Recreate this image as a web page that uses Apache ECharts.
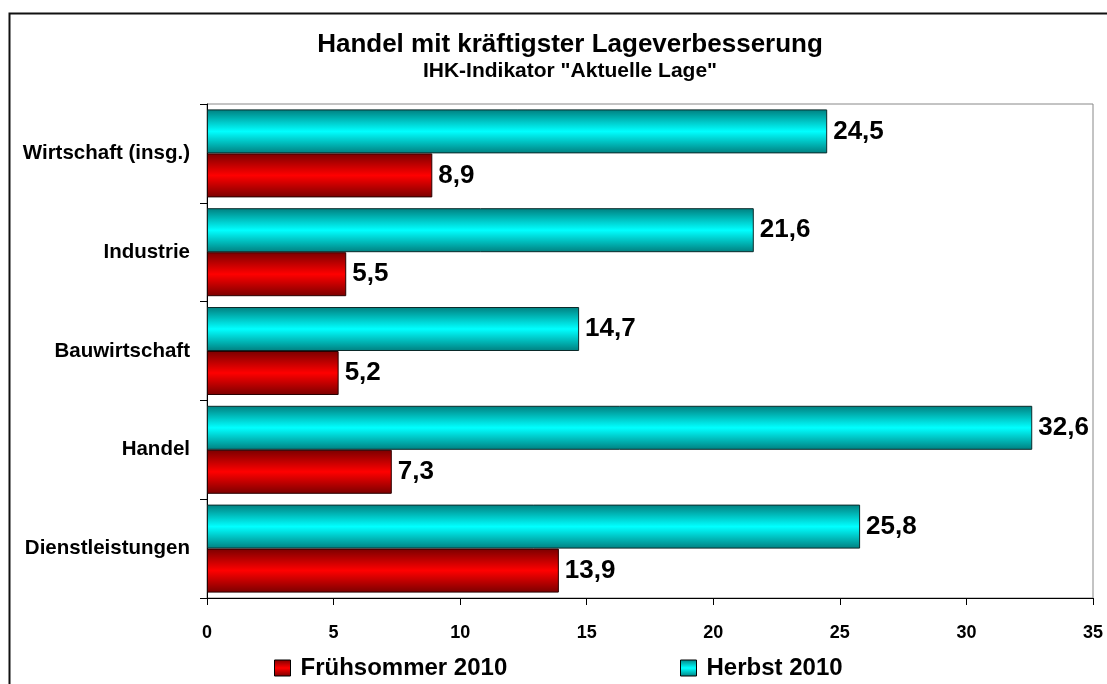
<!DOCTYPE html>
<html>
<head>
<meta charset="utf-8">
<title>Handel mit kräftigster Lageverbesserung</title>
<script src="https://cdn.jsdelivr.net/npm/echarts@6/dist/echarts.min.js"></script>
<style>
  html, body { margin: 0; padding: 0; background: #fff; }
  #main { width: 1107px; height: 684px; }
</style>
</head>
<body>
<div id="main"></div>
<script type="text/javascript">
  // chart data
  var categories = ['Wirtschaft (insg.)', 'Industrie', 'Bauwirtschaft', 'Handel', 'Dienstleistungen'];
  var herbst = [24.5, 21.6, 14.7, 32.6, 25.8];
  var fruehsommer = [8.9, 5.5, 5.2, 7.3, 13.9];
  var xTicks = { min: 0, max: 35, interval: 5 };

  var font = '"Liberation Sans", Arial, sans-serif';

  function shade(dark, light) {
    return new echarts.graphic.LinearGradient(0, 0, 0, 1, [
      { offset: 0, color: dark },
      { offset: 0.5, color: light },
      { offset: 1, color: dark }
    ]);
  }
  var cyan = shade('#007f7f', '#00ffff');
  var red = shade('#7a0000', '#ff0000');

  function fmt(p) {
    return String(p.value).replace('.', ',');
  }

  var legendText = { fontFamily: font, fontSize: 24, fontWeight: 'bold', color: '#000', rich: { g: { width: 5 } } };

  var chart = echarts.init(document.getElementById('main'));
  chart.setOption({
    animation: false,
    textStyle: { fontFamily: font },
    graphic: [{
      type: 'rect',
      left: 7, top: 11,
      shape: { width: 1200, height: 800 },
      style: { fill: 'none', stroke: '#111', lineWidth: 2 },
      z: -1
    }],
    title: [{
      text: 'Handel mit kräftigster Lageverbesserung',
      left: 565, top: 27, textAlign: 'center',
      textStyle: { fontFamily: font, fontSize: 26, fontWeight: 'bold', color: '#000' }
    }, {
      text: 'IHK-Indikator "Aktuelle Lage"',
      left: 565, top: 56, textAlign: 'center',
      textStyle: { fontFamily: font, fontSize: 21, fontWeight: 'bold', color: '#000' }
    }],
    legend: [{
      data: ['Frühsommer 2010'],
      left: 269, top: 651,
      icon: 'rect',
      itemWidth: 16, itemHeight: 16,
      formatter: function (n) { return '{g|}' + n; },
      itemStyle: { borderColor: '#000', borderWidth: 1 },
      textStyle: legendText
    }, {
      data: ['Herbst 2010'],
      left: 675, top: 651,
      icon: 'rect',
      itemWidth: 16, itemHeight: 16,
      formatter: function (n) { return '{g|}' + n; },
      itemStyle: { borderColor: '#000', borderWidth: 1 },
      textStyle: legendText
    }],
    grid: {
      left: 207, right: 14, top: 104, bottom: 86,
      show: true, borderColor: '#888', borderWidth: 1,
      containLabel: false
    },
    xAxis: {
      type: 'value',
      min: xTicks.min, max: xTicks.max, interval: xTicks.interval,
      axisLine: { show: true, lineStyle: { color: '#000', width: 1 } },
      axisTick: { show: true, length: 7, lineStyle: { color: '#000' } },
      splitLine: { show: false },
      axisLabel: { margin: 26, fontFamily: font, fontSize: 18, fontWeight: 'bold', color: '#000' }
    },
    yAxis: {
      type: 'category',
      inverse: true,
      data: categories,
      axisLine: { show: true, lineStyle: { color: '#000', width: 1 } },
      axisTick: { show: true, length: 7, lineStyle: { color: '#000' } },
      axisLabel: { margin: 17, fontFamily: font, fontSize: 20.5, fontWeight: 'bold', color: '#000' }
    },
    series: [{
      name: 'Herbst 2010',
      type: 'bar',
      data: herbst,
      barWidth: 44,
      barGap: '0%',
      itemStyle: { color: cyan, borderColor: '#0a2a2a', borderWidth: 1 },
      label: {
        show: true, position: 'right', distance: 6, formatter: fmt,
        fontFamily: font, fontSize: 26, fontWeight: 'bold', color: '#000'
      }
    }, {
      name: 'Frühsommer 2010',
      type: 'bar',
      data: fruehsommer,
      barWidth: 44,
      barGap: '0%',
      itemStyle: { color: red, borderColor: '#2a0000', borderWidth: 1 },
      label: {
        show: true, position: 'right', distance: 6, formatter: fmt,
        fontFamily: font, fontSize: 26, fontWeight: 'bold', color: '#000'
      }
    }]
  });
</script>
</body>
</html>
